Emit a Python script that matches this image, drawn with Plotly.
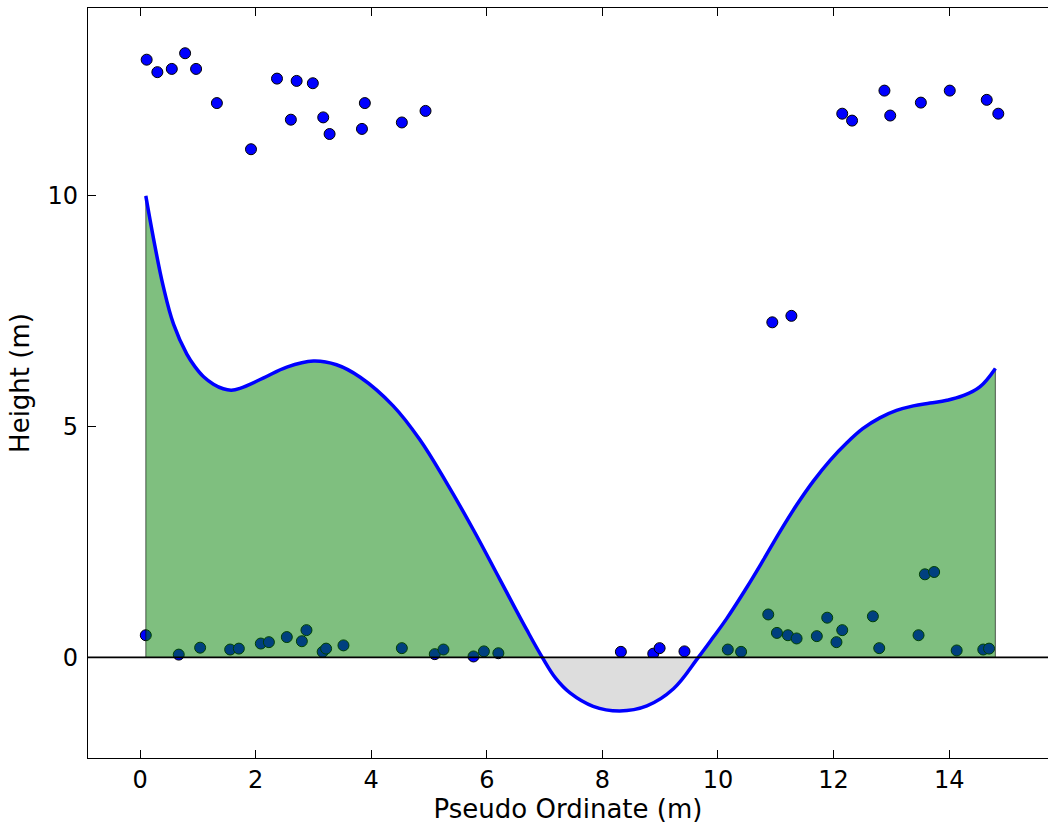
import plotly.graph_objects as go

# Ground / surface profile curve
curve_x = [0.10, 0.26, 0.40, 0.58, 0.81, 0.95, 1.10, 1.27, 1.44, 1.58, 1.73, 2.13, 2.54, 3.00, 3.40,
           3.81, 4.38, 4.84, 5.31, 5.77, 6.23, 6.69, 6.96, 7.19, 7.44, 7.84, 8.30, 8.77,
           9.23, 9.66, 9.92, 10.15, 10.50, 10.78, 11.07, 11.36, 11.65, 11.94, 12.23,
           12.51, 12.80, 13.09, 13.38, 13.67, 13.96, 14.24, 14.53, 14.80]
curve_y = [10.0, 8.90, 8.05, 7.22, 6.57, 6.30, 6.08, 5.92, 5.82, 5.79, 5.83, 6.05, 6.29, 6.42, 6.34,
           6.07, 5.45, 4.72, 3.77, 2.76, 1.68, 0.60, 0.0, -0.45, -0.77, -1.06, -1.16, -1.05,
           -0.68, 0.0, 0.44, 0.84, 1.52, 2.10, 2.72, 3.30, 3.82, 4.27, 4.65,
           4.96, 5.19, 5.35, 5.45, 5.51, 5.57, 5.67, 5.86, 6.26]

# Scatter points (x, y)
pts_x = [0.115, 0.30, 0.55, 0.78, 0.97, 1.33, 1.92, 2.37, 2.61, 2.71, 2.99, 3.17,
         3.28, 3.84, 3.89, 4.53, 4.94,
         12.15, 12.32, 12.88, 12.98, 13.51, 14.01, 14.65, 14.85,
         10.94, 11.27,
         0.10, 0.67, 1.04, 1.56, 1.71, 2.09, 2.23, 2.54, 2.80, 2.88, 3.16, 3.22,
         3.52, 4.53, 5.10, 5.25, 5.77, 5.95, 6.20,
         8.32, 8.88, 8.99, 9.42, 10.17, 10.40, 10.87, 11.02, 11.21, 11.36, 11.71,
         11.89, 12.05, 12.15, 12.68, 12.79, 13.47, 14.13, 14.59, 14.69,
         13.58, 13.74]
pts_y = [12.95, 12.68, 12.75, 13.09, 12.75, 12.01, 11.01, 12.54, 11.65, 12.49, 12.44, 11.70,
         11.34, 11.45, 12.01, 11.59, 11.84,
         11.78, 11.63, 12.28, 11.74, 12.02, 12.28, 12.08, 11.78,
         7.26, 7.40,
         0.48, 0.06, 0.21, 0.17, 0.19, 0.30, 0.33, 0.44, 0.35, 0.59, 0.12, 0.19,
         0.26, 0.20, 0.07, 0.17, 0.02, 0.13, 0.09,
         0.12, 0.08, 0.20, 0.13, 0.17, 0.12, 0.93, 0.53, 0.48, 0.41, 0.46,
         0.86, 0.33, 0.59, 0.89, 0.20, 0.48, 0.15, 0.17, 0.19,
         1.80, 1.85]

x_ticks = [0, 2, 4, 6, 8, 10, 12, 14]
y_ticks = [0, 5, 10]

neg_x = [x for x, y in zip(curve_x, curve_y) if y <= 0]
neg_y = [y for y in curve_y if y <= 0]

fig = go.Figure()

# points (drawn first so the translucent fill tints them)
fig.add_trace(go.Scatter(x=pts_x, y=pts_y, mode="markers",
                         marker=dict(size=11, color="#0000ff",
                                     line=dict(color="black", width=1)),
                         showlegend=False, hoverinfo="skip"))

# green fill of positive area
fig.add_trace(go.Scatter(x=curve_x, y=curve_y, mode="lines",
                         line=dict(width=0, shape="spline", smoothing=1.1),
                         fill="tozeroy", fillcolor="rgba(0,128,0,0.5)",
                         showlegend=False, hoverinfo="skip"))

# grey fill of negative area
fig.add_trace(go.Scatter(x=neg_x, y=neg_y, mode="lines",
                         line=dict(width=0, shape="spline", smoothing=1.1),
                         fill="tozeroy", fillcolor="#dddddd",
                         showlegend=False, hoverinfo="skip"))

# fill edges at both ends
for i in (0, -1):
    fig.add_trace(go.Scatter(x=[curve_x[i], curve_x[i]], y=[0, curve_y[i]],
                             mode="lines", line=dict(color="rgba(0,0,0,0.5)", width=1.2),
                             showlegend=False, hoverinfo="skip"))

# blue curve
fig.add_trace(go.Scatter(x=curve_x, y=curve_y, mode="lines",
                         line=dict(color="#0000ff", width=3.5, shape="spline", smoothing=1.1),
                         showlegend=False, hoverinfo="skip"))

fig.add_shape(type="line", xref="paper", yref="y", x0=0, x1=1, y0=0, y1=0,
              line=dict(color="black", width=1.6), layer="above")

font = dict(family="DejaVu Sans", size=24, color="black")
fig.update_layout(
    width=1048, height=825,
    margin=dict(l=88, r=0, t=8, b=67),
    paper_bgcolor="white", plot_bgcolor="white",
    font=font,
    xaxis=dict(range=[-0.9, 15.71], tickvals=x_ticks, ticks="inside", ticklen=8,
               tickcolor="black", showline=True, linecolor="black", linewidth=1.3,
               mirror="allticks", showgrid=False, zeroline=False,
               tickfont=font, ticklabelstandoff=0,
               title=dict(text="Pseudo Ordinate (m)", font=dict(family="DejaVu Sans", size=26, color="black"),
                          standoff=6)),
    yaxis=dict(range=[-2.18, 14.07], tickvals=y_ticks, ticks="inside", ticklen=8,
               tickcolor="black", showline=True, linecolor="black", linewidth=1.3,
               mirror=False, showgrid=False, zeroline=False,
               tickfont=font, ticklabelstandoff=4,
               title=dict(text="Height (m)", font=dict(family="DejaVu Sans", size=26, color="black"),
                          standoff=10)),
)

fig.write_html("out.html")
